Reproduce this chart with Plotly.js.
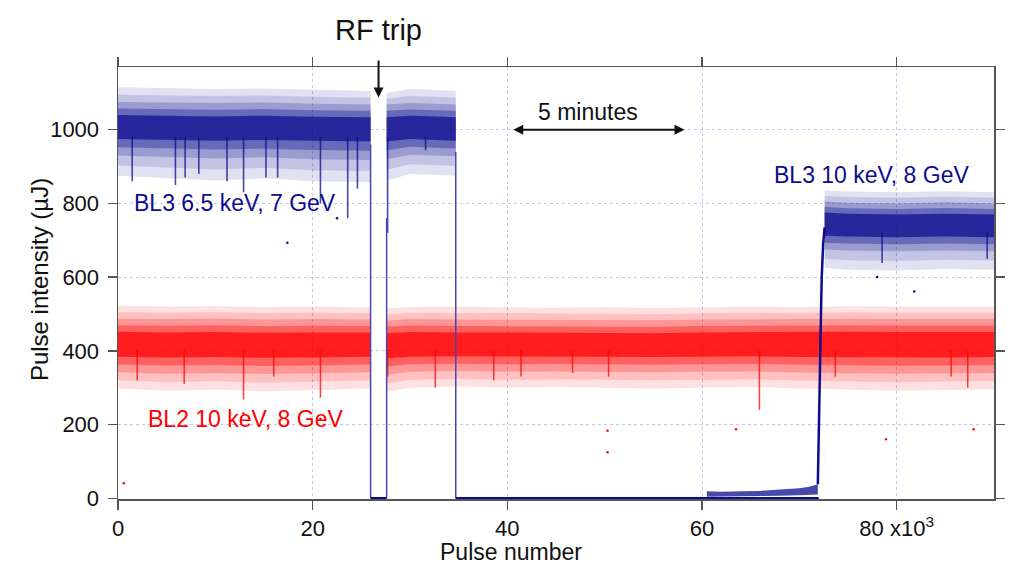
<!DOCTYPE html>
<html><head><meta charset="utf-8">
<script src="https://cdn.plot.ly/plotly-3.0.1.min.js"></script>
<style>html,body{margin:0;padding:0;background:#fff}#chart{width:1012px;height:564px}</style>
</head><body><div id="chart"></div>
<script>
// ---------------- data ----------------
// BL2 (red) intensity envelope, binned
const redX =       [0,5000,10000,15000,20000,25950,27600,30000,35000,40000,45000,50000,55000,60000,65000,70000,75000,80000,85000,90000];
const redOuterHi = [522,520,521,519,520,518, 515,519,520,518,517,519,516,518,520,519,521,520,519,520];
const redMidHi =   [487,486,488,485,486,485, 482,486,485,484,485,484,483,485,486,485,487,486,485,486];
const redCoreHi =  [452,450,451,449,450,450, 448,451,450,449,450,449,448,450,451,450,452,451,450,451];
const redCoreLo =  [384,382,383,381,382,384, 380,384,385,384,385,384,383,384,385,383,382,381,382,383];
const redMidLo =   [342,338,340,337,339,342, 335,343,345,343,344,342,342,343,344,341,339,338,339,340];
const redOuterLo = [298,292,295,290,293,298, 288,300,303,300,302,299,298,300,302,298,294,292,294,296];
const redSegments = [[0,25950],[27600,90000]];
const redDipX =   [1970,6800,12900,16000,20800,27700,32600,38600,41400,46700,50400,65900,73700,85600,87300];
const redDipY =   [320,310,268,330,273,330,300,320,330,340,330,240,330,330,300];
const redOutX = [600,50300,50300,63500,78900,87900,12900,20800];
const redOutY = [41,183,125,187,160,187,230,215];

// BL3 (blue) intensity envelope, binned
const blueX =       [0,5000,10000,15000,20000,25950, 27600,30000,32500,34700, 72600,75000,80000,85000,90000];
const blueOuterHi = [1115,1112,1110,1112,1108,1105, 1100,1110,1108,1105, 835,832,830,833,830];
const blueMidHi =   [1075,1073,1072,1074,1070,1068, 1068,1072,1070,1068, 805,802,800,803,800];
const blueCoreHi =  [1040,1038,1036,1038,1035,1034, 1034,1038,1036,1034, 775,772,770,772,770];
const blueCoreLo =  [975,972,970,972,970,968, 968,975,972,970, 712,710,708,710,708];
const blueMidLo =   [930,925,922,925,920,918, 920,932,930,928, 675,672,670,672,670];
const blueOuterLo = [875,868,862,868,860,858, 862,880,878,875, 625,620,618,622,620];
const blueSegments = [[0,25950],[27600,34700],[72600,90000]];
const blueDipX =   [1460,5900,6900,8300,11200,12900,15200,16400,20800,23600,24600,27700,31600,78500,89300];
const blueDipTop = [980,980,980,980,980,980,980,980,980,980,980,980,980,720,720];
const blueDipY =   [860,850,870,880,860,830,870,870,800,760,840,720,944,638,650];
const blueOutX = [17400,22500,81800,78000];
const blueOutY = [693,760,561,600];
// beam-off (zero) stretches and transitions
const blueZeroX = [25950,27600,null,34700,72000];
const blueZeroY = [0,0,null,0,0];
const blueEdgeX = [25950,25950,null,27600,27600,null,34700,34700];
const blueEdgeY = [960,0,null,0,760,null,940,0];
// low-level recovery before 10 keV switch
const blueLowX =  [60500,62000,64000,66000,68000,70000,71000,71900];
const blueLowLo = [4,5,5,6,7,8,9,10];
const blueLowHi = [19,18,19,20,24,27,31,38];
const blueRiseX = [71900,72000,72100,72200,72300,72450,72600];
const blueRiseY = [38,150,320,470,600,690,735];

const xTickVals = [0,20000,40000,60000,80000];
const xTickText = ['0','20','40','60','80 x10<sup>3</sup>'];
const yTickVals = [0,200,400,600,800,1000];

// ---------------- build traces ----------------
const RED = '#ff0000', BLUE = '#0c0c8e';
const traces = [];
function avg(a,b){ return a.map((v,i)=>(v+b[i])/2); }
function band(xs, lo, hi, seg, color, fill) {
  const idx = xs.map((v,i)=>i).filter(i => xs[i] >= seg[0] && xs[i] <= seg[1]);
  const X = idx.map(i=>xs[i]);
  traces.push({x:X, y:idx.map(i=>lo[i]), mode:'lines', line:{width:0,color:color}, hoverinfo:'skip', showlegend:false});
  traces.push({x:X, y:idx.map(i=>hi[i]), mode:'lines', line:{width:0,color:color}, fill:'tonexty', fillcolor:fill, hoverinfo:'skip', showlegend:false});
}
function cloud(xs, oLo, mLo, cLo, cHi, mHi, oHi, seg, rgb, color) {
  band(xs, oLo, oHi, seg, color, 'rgba('+rgb+',0.12)');
  band(xs, avg(oLo,mLo), avg(oHi,mHi), seg, color, 'rgba('+rgb+',0.14)');
  band(xs, mLo, mHi, seg, color, 'rgba('+rgb+',0.22)');
  band(xs, avg(mLo,cLo), avg(mHi,cHi), seg, color, 'rgba('+rgb+',0.35)');
  band(xs, cLo, cHi, seg, color, 'rgba('+rgb+',0.7)');
}
function dips(xs, top, bottoms, color, w) {
  const X = [], Y = [];
  xs.forEach((x,i)=>{ X.push(x,x,null); Y.push(Array.isArray(top)?top[i]:top, bottoms[i], null); });
  traces.push({x:X, y:Y, mode:'lines', line:{color:color,width:w}, opacity:0.75, hoverinfo:'skip', showlegend:false});
}

// red series
redSegments.forEach(seg => cloud(redX, redOuterLo, redMidLo, redCoreLo, redCoreHi, redMidHi, redOuterHi, seg, '255,0,0', RED));
dips(redDipX, 400, redDipY, RED, 1.5);
traces.push({x:redOutX, y:redOutY, mode:'markers', marker:{size:2.5,color:RED}, hoverinfo:'skip', showlegend:false});

// blue series
blueSegments.forEach(seg => cloud(blueX, blueOuterLo, blueMidLo, blueCoreLo, blueCoreHi, blueMidHi, blueOuterHi, seg, '12,12,142', BLUE));
dips(blueDipX, blueDipTop, blueDipY, BLUE, 1.6);
traces.push({x:blueOutX, y:blueOutY, mode:'markers', marker:{size:2.5,color:BLUE}, hoverinfo:'skip', showlegend:false});
traces.push({x:blueEdgeX, y:blueEdgeY, mode:'lines', line:{color:'#4747ad',width:1.5}, hoverinfo:'skip', showlegend:false});
traces.push({x:blueZeroX, y:blueZeroY, mode:'lines', line:{color:BLUE,width:2.5}, hoverinfo:'skip', showlegend:false});
traces.push({x:blueLowX, y:blueLowLo, mode:'lines', line:{width:0,color:BLUE}, hoverinfo:'skip', showlegend:false});
traces.push({x:blueLowX, y:blueLowHi, mode:'lines', line:{width:0,color:BLUE}, fill:'tonexty', fillcolor:'rgba(12,12,142,0.75)', hoverinfo:'skip', showlegend:false});
traces.push({x:blueRiseX, y:blueRiseY, mode:'lines', line:{color:BLUE,width:2.5}, hoverinfo:'skip', showlegend:false});

const FONT = 'Liberation Sans, Arial, Helvetica, sans-serif';
const axisCommon = {
  showline:true, linecolor:'#555', linewidth:1.5, mirror:'ticks',
  ticks:'outside', ticklen:9, tickwidth:1.5, tickcolor:'#555',
  showgrid:true, gridcolor:'rgba(160,160,235,0.6)', gridwidth:1, griddash:'dot',
  zeroline:false, tickfont:{family:FONT,size:22,color:'#111'}
};
const layout = {
  width:1012, height:564,
  margin:{l:118, r:18, t:67, b:65},
  paper_bgcolor:'#fff', plot_bgcolor:'#fff',
  showlegend:false, hovermode:false,
  xaxis: Object.assign({}, axisCommon, {
    range:[0,90000], tickmode:'array', tickvals:xTickVals, ticktext:xTickText
  }),
  yaxis: Object.assign({}, axisCommon, {
    range:[-2,1170], tickmode:'array', tickvals:yTickVals, ticklabelstandoff:4
  }),
  annotations:[
    {xref:'paper', yref:'paper', x:0.449, y:-0.122, text:'Pulse number', showarrow:false, xanchor:'center', yanchor:'middle',
     font:{family:FONT,size:23,color:'#111'}},
    {xref:'paper', yref:'paper', x:-0.0902, y:0.509, text:'Pulse intensity (µJ)', textangle:-90, showarrow:false, xanchor:'center', yanchor:'middle',
     font:{family:FONT,size:24,color:'#111'}},
    {xref:'x', yref:'paper', x:26770, y:1.085, text:'RF trip', showarrow:false, xanchor:'center', yanchor:'middle',
     font:{family:FONT,size:29,color:'#111'}},
    {xref:'x', yref:'y', x:26770, y:1087, ax:0, ay:-47, text:' ', showarrow:true, arrowhead:2, arrowsize:1, arrowwidth:2, arrowcolor:'#111'},
    {xref:'x', yref:'y', x:48250, y:1049, text:'5 minutes', showarrow:false, xanchor:'center', yanchor:'middle',
     font:{family:FONT,size:23,color:'#111'}},
    {xref:'x', yref:'y', x:58200, y:1000, axref:'x', ayref:'y', ax:40300, ay:1000, text:' ', showarrow:true,
     arrowside:'end+start', arrowhead:2, arrowsize:1, arrowwidth:2, arrowcolor:'#111'},
    {xref:'x', yref:'y', x:1400, y:800, text:'BL3 6.5 keV, 7 GeV', showarrow:false, xanchor:'left', yanchor:'middle',
     font:{family:FONT,size:23,color:BLUE}},
    {xref:'x', yref:'y', x:2830, y:214, text:'BL2 10 keV, 8 GeV', showarrow:false, xanchor:'left', yanchor:'middle',
     font:{family:FONT,size:23,color:RED}},
    {xref:'x', yref:'y', x:67200, y:878, text:'BL3 10 keV, 8 GeV', showarrow:false, xanchor:'left', yanchor:'middle',
     font:{family:FONT,size:23,color:BLUE}}
  ]
};
Plotly.newPlot('chart', traces, layout, {displayModeBar:false, staticPlot:true});
</script></body></html>
